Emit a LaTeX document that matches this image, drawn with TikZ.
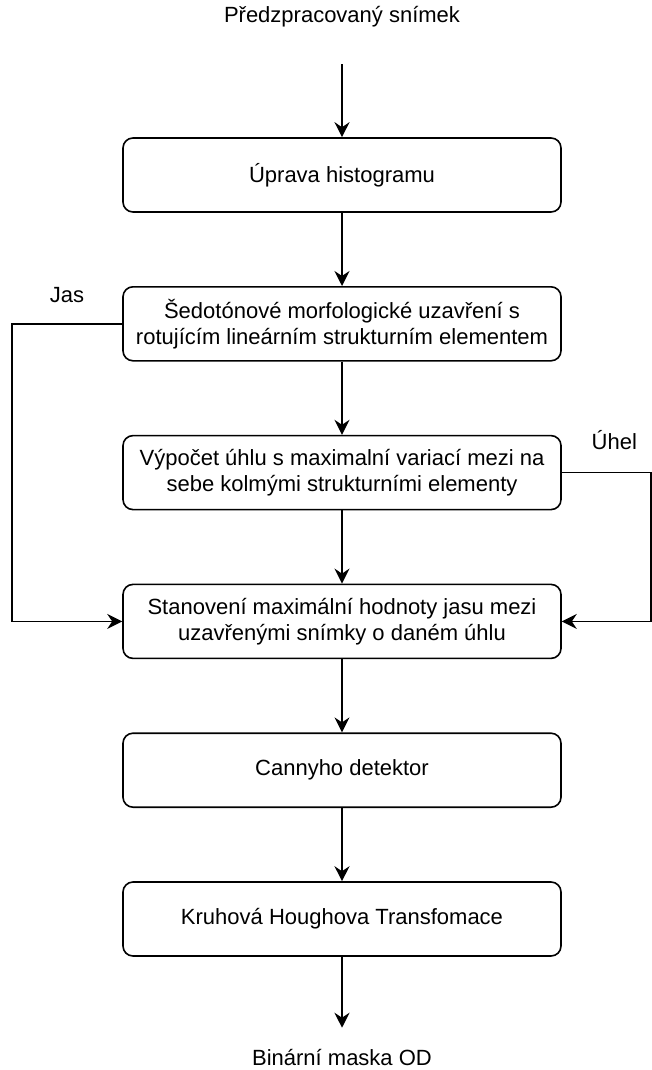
\documentclass[tikz,border=0pt]{standalone}
\usepackage{fontspec}
\setmainfont{Liberation Sans}
\usetikzlibrary{arrows.meta,positioning,calc}

\begin{document}
\begin{tikzpicture}[
	font=\fontsize{11pt}{13pt}\selectfont,
	node distance=36.6pt,
	>={Stealth[length=7.5pt,width=7.5pt,inset=2.5pt]},
	box/.style={rectangle, rounded corners=5pt, draw=black, line width=0.8pt, minimum width=219pt, minimum height=37pt, align=center, inner sep=2pt},
	flow/.style={->, line width=0.8pt},
	tag/.style={inner sep=1pt}
]
\useasboundingbox (0,0) rectangle (326pt,-535pt);

% --- Input / output ---
\node (in) at (171pt,-8.5pt) {Předzpracovaný snímek};
\node (out) at (171pt,-528.5pt) {Binární maska OD};

% --- Processing chain ---
\node[box] (hist) at (171pt,-87.5pt) {Úprava histogramu};
\node[box, below=of hist] (close) {Šedotónové morfologické uzavření s\\rotujícím lineárním strukturním elementem};
\node[box, below=of close] (angle) {Výpočet úhlu s maximalní variací mezi na\\sebe kolmými strukturními elementy};
\node[box, below=of angle] (maxjas) {Stanovení maximální hodnoty jasu mezi\\uzavřenými snímky o daném úhlu};
\node[box, below=of maxjas] (canny) {Cannyho detektor};
\node[box, below=of canny] (hough) {Kruhová Houghova Transfomace};

\draw[flow, shorten <=15pt] (in) -- (hist);
\draw[flow] (hist) -- (close);
\draw[flow] (close) -- (angle);
\draw[flow] (angle) -- (maxjas);
\draw[flow] (maxjas) -- (canny);
\draw[flow] (canny) -- (hough);
\draw[flow, shorten >=7pt] (hough) -- (out);

% --- Side paths ---
\coordinate (jasbend) at (6pt,0);
\coordinate (uhelbend) at (325.4pt,0);
\draw[flow] (close.west) -- node[tag, above=9pt] {Jas} (close.west -| jasbend) |- (maxjas.west);
\draw[flow] (angle.east) -- node[tag, above=10pt, xshift=4pt] {Úhel} (angle.east -| uhelbend) |- (maxjas.east);

\end{tikzpicture}
\end{document}
